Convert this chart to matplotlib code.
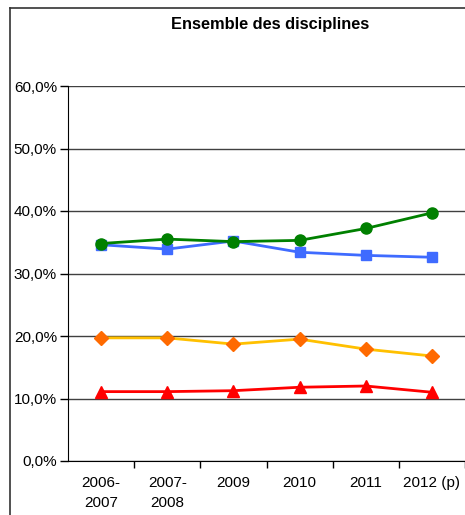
import matplotlib
matplotlib.use("Agg")
import matplotlib.pyplot as plt
from matplotlib.lines import Line2D
from matplotlib.ticker import FixedLocator

plt.rcParams['font.family'] = ['Liberation Sans', 'DejaVu Sans']

categories = ["2006-\n2007", "2007-\n2008", "2009", "2010", "2011", "2012 (p)"]
green_vals = [34.8, 35.5, 35.1, 35.3, 37.2, 39.7]
blue_vals = [34.6, 33.9, 35.2, 33.4, 32.9, 32.6]
orange_vals = [19.7, 19.7, 18.7, 19.5, 17.9, 16.8]
red_vals = [11.1, 11.1, 11.25, 11.8, 12.0, 11.0]
yticks = [0, 10, 20, 30, 40, 50, 60]
ytick_labels = ["0,0%", "10,0%", "20,0%", "30,0%", "40,0%", "50,0%", "60,0%"]
title = "Ensemble des disciplines"

fig = plt.figure(figsize=(4.65, 5.15), dpi=100)
ax = fig.add_axes([68/465, 1-461/515, 1-68/465, (461-86)/515])

x = list(range(len(categories)))
ax.plot(x, green_vals, color="#008000", lw=2, marker="o", ms=8, zorder=5)
ax.plot(x, blue_vals, color="#3F6BFF", lw=2, marker="s", ms=7, zorder=4)
ax.plot(x, orange_vals, color="#FFC000", lw=2, marker="D", ms=7,
        markerfacecolor="#FF6A00", markeredgecolor="#FF6A00", zorder=4)
ax.plot(x, red_vals, color="#FF0000", lw=2, marker="^", ms=8.5, zorder=4)

ax.set_xlim(-0.5, 5.5)
ax.set_ylim(0, 60)
ax.set_yticks(yticks)
ax.set_yticklabels(ytick_labels, fontsize=11)
ax.set_xticks(x)
ax.set_xticklabels(categories, fontsize=11, linespacing=1.5)
ax.xaxis.set_minor_locator(FixedLocator([0.5, 1.5, 2.5, 3.5, 4.5, 5.5]))
ax.tick_params(axis='x', which='major', length=0, pad=11)
ax.tick_params(axis='x', which='minor', length=5, width=1, direction='out', color='black')
ax.tick_params(axis='y', length=6, width=1, direction='out', color='black', pad=2)
ax.grid(axis='y', color="#404040", lw=1)
ax.set_axisbelow(True)
for s in ['top', 'right']:
    ax.spines[s].set_visible(False)
ax.spines['left'].set_color('black')
ax.spines['bottom'].set_color('black')

fig.text(270/465, 1-24/515, title, ha='center', va='center', fontsize=11.8, fontweight='bold')

# outer frame (left and top edges)
fig.add_artist(Line2D([10/465, 10/465], [0, 1-8/515], transform=fig.transFigure, color='#333333', lw=1.2))
fig.add_artist(Line2D([10/465, 1], [1-8/515, 1-8/515], transform=fig.transFigure, color='#333333', lw=1.2))

fig.savefig("out.png", dpi=100)
